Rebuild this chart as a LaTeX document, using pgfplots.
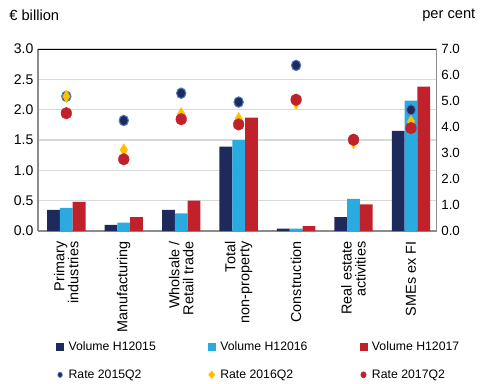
\documentclass[border=0pt]{standalone}
\usepackage{pgfplots}
\pgfplotsset{compat=1.18}
\usepackage{fontspec}
\setmainfont{Liberation Sans}
\definecolor{cnavy}{HTML}{1F2A5C}
\definecolor{clight}{HTML}{29ABE2}
\definecolor{cred}{HTML}{C1212B}
\definecolor{cgold}{HTML}{FFC000}
\definecolor{cedge}{HTML}{4A7EC0}
\definecolor{cgrid}{HTML}{D9D9D9}
\definecolor{caxis}{HTML}{8C8C8C}
\begin{document}
\begin{tikzpicture}[font=\fontsize{9}{11}\selectfont]
\path[use as bounding box] (-28.5pt,-114pt) rectangle (333pt,173.25pt);
\node[anchor=west, font=\fontsize{11}{13}\selectfont] at (-25pt,162pt) {€ billion};
\node[anchor=east, font=\fontsize{11}{13}\selectfont] at (331.5pt,162pt) {per cent};
\begin{axis}[
  at={(0pt,0pt)}, anchor=south west,
  width=299pt, height=136.5pt, scale only axis,
  xmin=-0.493, xmax=6.447, ymin=0, ymax=3,
  ybar=0pt, bar width=9.6pt,
  xtick={0,1,2,3,4,5,6},
  xticklabels={Primary\\industries, Manufacturing, Wholsale /\\Retail trade, Total\\non-property, Construction, Real estate\\activities, SMEs ex FI},
  xticklabel style={yshift=-4.5pt, rotate=90, anchor=east, align=right, font=\fontsize{10.8}{10.5}\selectfont},
  ytick={0,0.5,...,3},
  yticklabel style={font=\fontsize{10.5}{12}\selectfont, /pgf/number format/.cd, fixed, fixed zerofill, precision=1},
  /pgf/number format/assume math mode=true,
  major tick length=0pt,
  ymajorgrids, grid style={cgrid, line width=1.1pt},
  axis y line*=left, axis x line*=bottom,
  axis line style={caxis, line width=0.9pt},
  y axis line style={-}, x axis line style={-},
]
\addplot[fill=cnavy, draw=none] coordinates {(0,0.35) (1,0.10) (2,0.35) (3,1.39) (4,0.04) (5,0.23) (6,1.65)};
\addplot[fill=clight, draw=none] coordinates {(0,0.38) (1,0.14) (2,0.29) (3,1.50) (4,0.04) (5,0.53) (6,2.15)};
\addplot[fill=cred, draw=none] coordinates {(0,0.48) (1,0.23) (2,0.50) (3,1.87) (4,0.08) (5,0.44) (6,2.38)};
\draw[black, line width=0.8pt] (rel axis cs:0,1) -- (rel axis cs:1,1);
\end{axis}
\begin{axis}[
  at={(0pt,0pt)}, anchor=south west,
  width=299pt, height=136.5pt, scale only axis,
  xmin=-0.493, xmax=6.447, ymin=0, ymax=7,
  ytick={0,1,...,7},
  yticklabel style={font=\fontsize{10}{12}\selectfont, /pgf/number format/.cd, fixed, fixed zerofill, precision=1},
  /pgf/number format/assume math mode=true,
  major tick length=0pt,
  axis y line*=right, axis x line=none,
  axis line style={caxis, line width=0.9pt},
  y axis line style={-},
  legend columns=3,
  legend cell align=left,
  legend style={draw=none, fill=none, inner sep=0pt, at={(axis description cs:0.045,-0.59)}, anchor=north west,
    font=\fontsize{9.2}{11}\selectfont,
    /tikz/every even column/.append style={column sep=37pt},
    /tikz/every odd column/.append style={column sep=1.5pt},
    /tikz/row sep=9pt},
]
\addlegendimage{legend image code/.code={\fill[cnavy] (0pt,-2.7pt) rectangle (5.4pt,2.7pt);}}
\addlegendentry{Volume H12015}
\addlegendimage{legend image code/.code={\fill[clight] (0pt,-2.7pt) rectangle (5.4pt,2.7pt);}}
\addlegendentry{Volume H12016}
\addlegendimage{legend image code/.code={\fill[cred] (0pt,-2.7pt) rectangle (5.4pt,2.7pt);}}
\addlegendentry{Volume H12017}
\addlegendimage{legend image code/.code={\fill[cnavy, draw=cedge, line width=0.5pt] (2.7pt,0pt) ellipse (1.7pt and 2.0pt);}}
\addlegendentry{Rate 2015Q2}
\addlegendimage{legend image code/.code={\fill[cgold] (2.7pt,-2.8pt) -- (5.0pt,0pt) -- (2.7pt,2.8pt) -- (0.4pt,0pt) -- cycle;}}
\addlegendentry{Rate 2016Q2}
\addlegendimage{legend image code/.code={\fill[cred] (2.7pt,0pt) ellipse (2.0pt and 2.3pt);}}
\addlegendentry{Rate 2017Q2}
\addplot[only marks, mark=*, mark size=3.5pt, mark options={fill=cnavy, draw=cedge, line width=0.8pt, yscale=1.12}, forget plot]
  coordinates {(0,5.18) (1,4.25) (2,5.30) (3,4.96) (4,6.37) (5,3.51) (6,4.66)};
\addplot[only marks, mark=diamond*, mark size=4.6pt, mark options={fill=cgold, draw=cgold, xscale=0.8}, forget plot]
  coordinates {(0,5.18) (1,3.12) (2,4.51) (3,4.32) (4,4.92) (5,3.40) (6,4.21)};
\addplot[only marks, mark=*, mark size=4.0pt, mark options={fill=cred, draw=cred, line width=0.3pt, yscale=1.1}, forget plot]
  coordinates {(0,4.53) (1,2.76) (2,4.30) (3,4.10) (4,5.05) (5,3.51) (6,3.96)};
\end{axis}
\end{tikzpicture}
\end{document}
